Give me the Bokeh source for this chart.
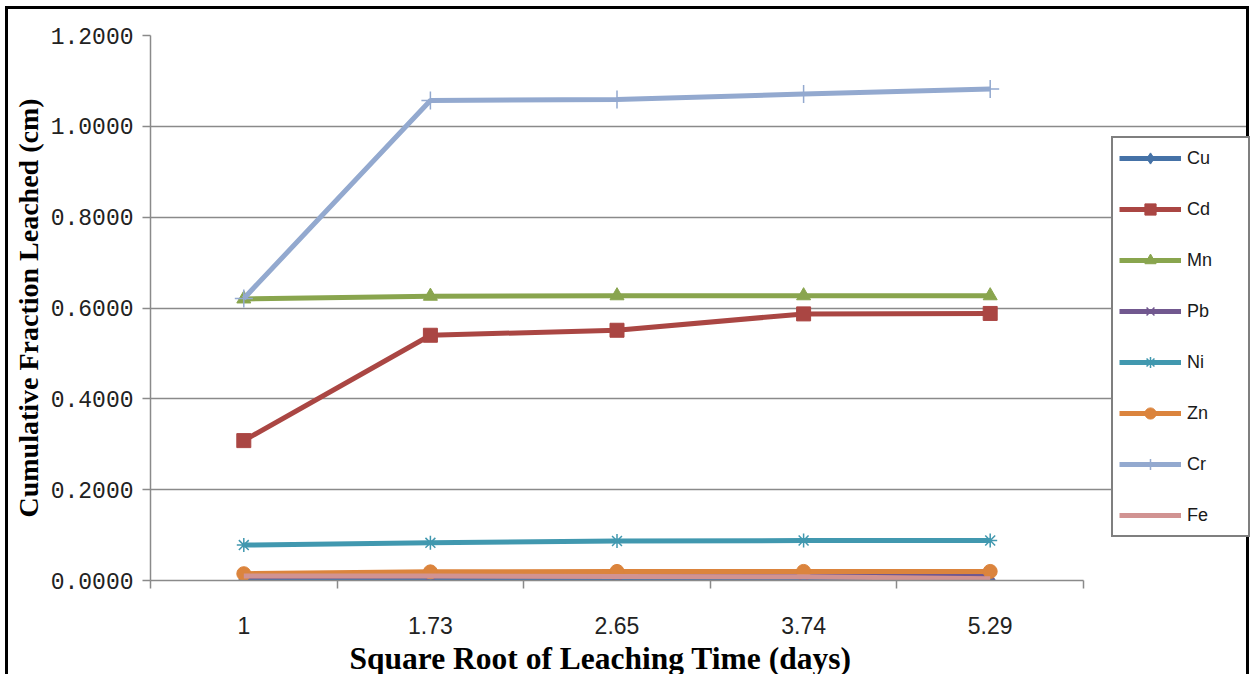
from bokeh.plotting import figure
from bokeh.models import Range1d, FixedTicker, NumeralTickFormatter, Legend, LegendItem, Title
from bokeh.embed import file_html
from bokeh.resources import INLINE

# ---- data ----
times = ["1", "1.73", "2.65", "3.74", "5.29"]
cu = [0.000, 0.000, 0.000, 0.000, 0.000]
cd = [0.308, 0.540, 0.551, 0.587, 0.588]
mn = [0.620, 0.626, 0.627, 0.627, 0.627]
pb = [0.008, 0.010, 0.010, 0.010, 0.010]
ni = [0.078, 0.083, 0.087, 0.088, 0.088]
zn = [0.015, 0.019, 0.020, 0.020, 0.020]
cr = [0.621, 1.057, 1.059, 1.071, 1.082]
fe = [0.010, 0.010, 0.009, 0.008, 0.004]
y_ticks = [0.0, 0.2, 0.4, 0.6, 0.8, 1.0, 1.2]

n = len(times)
x = [i + 0.5 for i in range(n)]

# the frame is widened to the right so that the legend (outside the axes) is not clipped
x_end = n * 1100.0 / 933.0

p = figure(width=1244, height=668, x_range=Range1d(0, x_end), y_range=Range1d(0, 1.2),
           output_backend="svg", toolbar_location=None,
           min_border_left=142, min_border_right=2, min_border_top=26, min_border_bottom=97)
p.outline_line_color = None
p.background_fill_color = "white"
p.border_fill_color = "white"
p.styles = {"border-left": "3px solid black", "border-top": "3px solid black",
            "border-right": "3px solid black", "margin-left": "5px", "margin-top": "6px"}

grid_col = "#8a8a8a"

# y axis
p.yaxis.ticker = FixedTicker(ticks=y_ticks)
p.yaxis.formatter = NumeralTickFormatter(format="0.0000")
p.yaxis.major_label_text_font = "Liberation Mono"
p.yaxis.major_label_text_font_size = "23px"
p.yaxis.major_label_text_color = "#222222"
p.yaxis.major_tick_out = 8
p.yaxis.major_tick_in = 0
p.yaxis.minor_tick_line_color = None
p.yaxis.major_label_standoff = 9
p.yaxis.axis_line_color = grid_col
p.yaxis.axis_line_width = 1.5
p.yaxis.major_tick_line_color = grid_col
p.yaxis.major_tick_line_width = 1.5
p.yaxis.axis_label = "Cumulative Fraction Leached (cm)"
p.yaxis.axis_label_text_font = "Liberation Serif"
p.yaxis.axis_label_text_font_style = "bold"
p.yaxis.axis_label_text_font_size = "28px"
p.yaxis.axis_label_text_color = "black"
p.yaxis.axis_label_standoff = 4

# x axis
p.xaxis.bounds = (0, n)
p.xaxis.ticker = FixedTicker(ticks=x, minor_ticks=list(range(n + 1)))
p.xaxis.major_label_overrides = {xv: t for xv, t in zip(x, times)}
p.xaxis.major_tick_in = 0
p.xaxis.major_tick_out = 0
p.xaxis.minor_tick_in = 0
p.xaxis.minor_tick_out = 8
p.xaxis.minor_tick_line_color = grid_col
p.xaxis.minor_tick_line_width = 1.5
p.xaxis.axis_line_color = grid_col
p.xaxis.axis_line_width = 1.5
p.xaxis.major_label_text_font = "Liberation Sans"
p.xaxis.major_label_text_font_size = "23px"
p.xaxis.major_label_text_color = "#222222"
p.xaxis.major_label_standoff = 28

xtitle = Title(text="Square Root of Leaching Time (days)", align="left", offset=199,
               text_font="Liberation Serif", text_font_style="bold",
               text_font_size="31.5px", text_color="black", standoff=4)
p.add_layout(xtitle, "below")

p.xgrid.visible = False
p.ygrid.ticker = FixedTicker(ticks=y_ticks)
p.ygrid.bounds = (0, n)
p.ygrid.grid_line_color = grid_col
p.ygrid.grid_line_width = 1.5

series = [
    ("Cu", cu, "#4572A7", "diamond", 16, 5),
    ("Cd", cd, "#AA4643", "square", 14, 5),
    ("Mn", mn, "#89A54E", "triangle", 14, 5),
    ("Pb", pb, "#71588F", "x", 12, 5),
    ("Ni", ni, "#4198AF", "asterisk", 14, 5),
    ("Zn", zn, "#DB843D", "circle", 14, 5),
    ("Cr", cr, "#93A9CF", "cross", 18, 5),
    ("Fe", fe, "#D19392", None, 0, 5),
]

items = []
for name, vals, col, mk, sz, lw in series:
    rs = [p.line(x, vals, line_color=col, line_width=lw)]
    if mk is not None:
        if mk in ("x", "asterisk", "cross"):
            rs.append(p.scatter(x, vals, marker=mk, size=sz, line_color=col, line_width=1.5,
                                fill_color=col))
        else:
            rs.append(p.scatter(x, vals, marker=mk, size=sz, line_color=col, fill_color=col))
    items.append(LegendItem(label=name, renderers=rs))

legend = Legend(items=items, location=(961, 43), margin=0, padding=6, spacing=23,
                glyph_width=62, glyph_height=28, label_height=28, label_width=55,
                label_standoff=6, label_text_font="Liberation Sans",
                label_text_font_size="18px", label_text_color="#1a1a1a",
                border_line_color="black", border_line_width=2,
                background_fill_color="white", background_fill_alpha=1.0)
p.add_layout(legend)

open("out.html", "w").write(file_html(p, INLINE))
